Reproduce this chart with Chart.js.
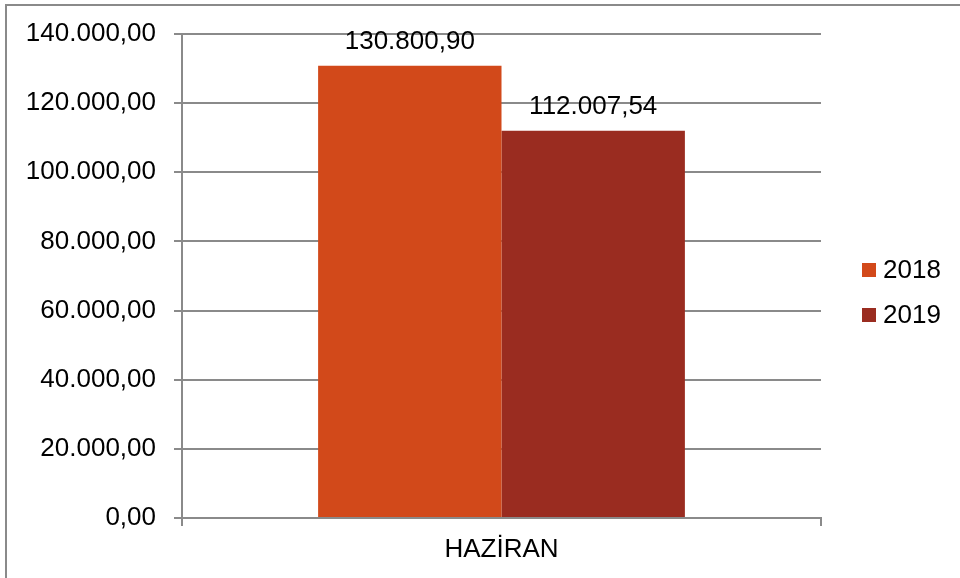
<!DOCTYPE html>
<html>
<head>
<meta charset="utf-8">
<script src="https://cdn.jsdelivr.net/npm/chart.js@4"></script>
<style>
  html, body { margin: 0; padding: 0; background: #fff; overflow: hidden; }
  #wrap { width: 960px; height: 578px; position: relative; }
</style>
</head>
<body>
<div id="wrap"><canvas id="chart"></canvas></div>
<script>
// ---- DATA ----
const categories = ['HAZİRAN'];
const seriesNames = ['2018', '2019'];
const values2018 = [130800.90];
const values2019 = [112007.54];
const yTicks = [0, 20000, 40000, 60000, 80000, 100000, 120000, 140000];

const colors = ['#D2491A', '#9A2C20'];
const FONT = 'Liberation Sans, Arial, sans-serif';
const FSIZE = 26;

// Turkish number format: 130.800,90
function fmtTR(v) {
  const parts = Number(v).toFixed(2).split('.');
  const int = parts[0].replace(/\B(?=(\d{3})+(?!\d))/g, '.');
  return int + ',' + parts[1];
}

// ---- PLUGINS ----
const frame = {
  id: 'frame',
  afterDraw(chart) {
    const ctx = chart.ctx;
    ctx.save();
    ctx.strokeStyle = '#8a8a8a';
    ctx.lineWidth = 2;
    ctx.beginPath();
    ctx.moveTo(6, chart.height + 2);
    ctx.lineTo(6, 5);
    ctx.lineTo(chart.width + 2, 5);
    ctx.stroke();
    ctx.restore();
  }
};

const valueLabels = {
  id: 'valueLabels',
  afterDatasetsDraw(chart) {
    const ctx = chart.ctx;
    ctx.save();
    ctx.font = FSIZE + 'px ' + FONT;
    ctx.fillStyle = '#000';
    ctx.textAlign = 'center';
    ctx.textBaseline = 'alphabetic';
    chart.data.datasets.forEach((ds, i) => {
      chart.getDatasetMeta(i).data.forEach((bar, j) => {
        ctx.fillText(fmtTR(ds.data[j]), bar.x, bar.y - 17);
      });
    });
    ctx.restore();
  }
};

const sideLegend = {
  id: 'sideLegend',
  afterDraw(chart) {
    const ctx = chart.ctx;
    const x = chart.chartArea.right + 41;
    const y0 = 270;
    ctx.save();
    ctx.font = FSIZE + 'px ' + FONT;
    ctx.textBaseline = 'middle';
    ctx.textAlign = 'left';
    chart.data.datasets.forEach((ds, i) => {
      const y = y0 + i * 45;
      ctx.fillStyle = ds.backgroundColor;
      ctx.fillRect(x, y - 7, 14, 14);
      ctx.fillStyle = '#000';
      ctx.fillText(ds.label, x + 21, y + 1);
    });
    ctx.restore();
  }
};

// ---- CHART ----
new Chart(document.getElementById('chart'), {
  type: 'bar',
  data: {
    labels: categories,
    datasets: [
      { label: seriesNames[0], data: values2018, backgroundColor: colors[0] },
      { label: seriesNames[1], data: values2019, backgroundColor: colors[1] },
    ],
  },
  options: {
    responsive: true,
    maintainAspectRatio: false,
    animation: false,
    categoryPercentage: 0.574,
    barPercentage: 1,
    layout: { padding: { left: 0, right: 139, top: 34, bottom: 0 } },
    plugins: {
      legend: { display: false },
      tooltip: { enabled: false },
    },
    scales: {
      x: {
        offset: true,
        grid: { offset: true, drawOnChartArea: false, drawTicks: true, tickLength: 8, color: '#8a8a8a', lineWidth: 2 },
        border: { display: true, color: '#8a8a8a', width: 2 },
        ticks: { color: '#000', font: { size: FSIZE, family: FONT }, padding: 8 },
        afterFit: s => { s.height = 60; },
      },
      y: {
        min: 0,
        max: yTicks[yTicks.length - 1],
        afterBuildTicks: s => { s.ticks = yTicks.map(v => ({ value: v })); },
        grid: { color: '#8a8a8a', lineWidth: 2, tickLength: 8 },
        border: { display: true, color: '#8a8a8a', width: 2 },
        ticks: { color: '#000', font: { size: FSIZE, family: FONT }, padding: 18, callback: v => fmtTR(v) },
        afterFit: s => { s.width = 182; },
      },
    },
  },
  plugins: [frame, valueLabels, sideLegend],
});
</script>
</body>
</html>
